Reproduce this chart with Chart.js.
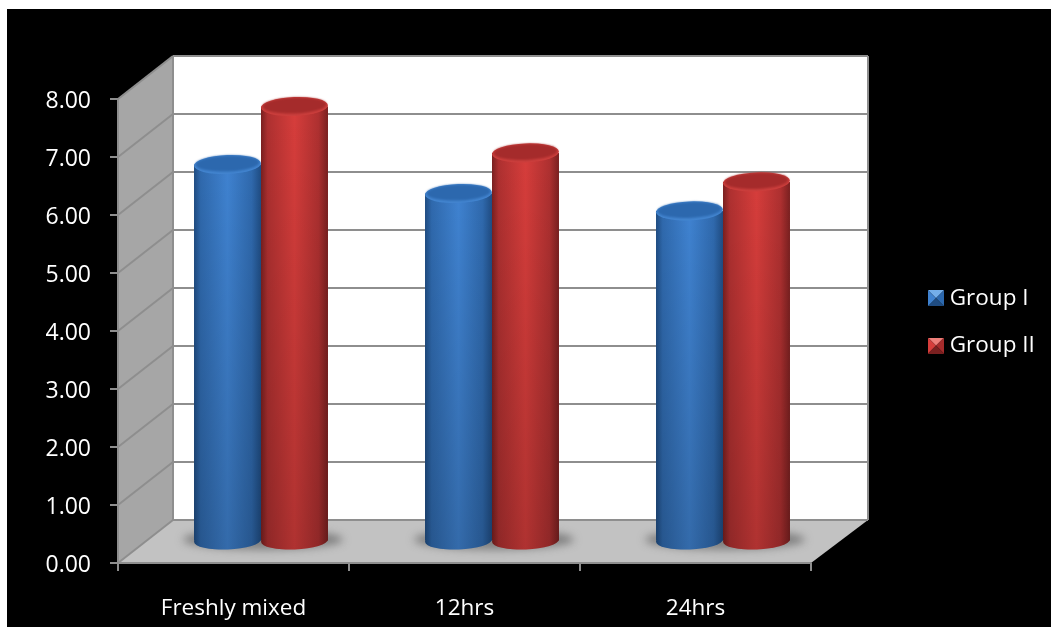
<!DOCTYPE html>
<html>
<head>
<meta charset="utf-8">
<title>Group I / Group II</title>
<script src="https://cdn.jsdelivr.net/npm/chart.js@4/dist/chart.umd.min.js"></script>
<style>
    html, body { margin: 0; padding: 0; background: #fff; overflow: hidden; }
    #backdrop { position: absolute; left: 7px; top: 9px; right: 0; bottom: 0; background: #000; }
    #wrap { position: absolute; left: 0; top: 0; width: 1051px; height: 627px; }
    canvas { display: block; }
</style>
</head>
<body>
<div id="backdrop"></div>
<div id="wrap"><canvas id="chart" width="1051" height="627"></canvas></div>
<script>
// Données
const categories = ['Freshly mixed', '12hrs', '24hrs'];
const groupOne = [6.5, 6.0, 5.7];
const groupTwo = [7.5, 6.7, 6.2];
const axisMax = 8;
const axisStep = 1;

// 3D box: how far the back wall sits behind the front axes
const DEPTH_X = 55;
const DEPTH_Y = -43;
const FONT = '"Open Sans", sans-serif';

const BLUE = { edge: '#1f4c82', side: '#2f69ad', mid: '#3f82d0', cap: '#2c68ae', rim: '#4385d0', top: '#74aeea' };
const RED  = { edge: '#7a2020', side: '#ae3030', mid: '#d63d3b', cap: '#a52b2b', rim: '#cc3f3d', top: '#ee7f7a' };

function poly(ctx, pts, fill) {
    ctx.beginPath();
    pts.forEach((p, i) => i ? ctx.lineTo(p[0], p[1]) : ctx.moveTo(p[0], p[1]));
    ctx.closePath();
    ctx.fillStyle = fill;
    ctx.fill();
}

function line(ctx, x1, y1, x2, y2) {
    ctx.beginPath();
    ctx.moveTo(x1, y1);
    ctx.lineTo(x2, y2);
    ctx.stroke();
}

// Small bevelled square for the legend
function legendMarker(c) {
    const s = 16;
    const cv = document.createElement('canvas');
    cv.width = s; cv.height = s;
    const g = cv.getContext('2d');
    const m = s / 2;
    poly(g, [[0, 0], [s, 0], [m, m]], c.top);
    poly(g, [[0, 0], [0, s], [m, m]], c.mid);
    poly(g, [[s, 0], [s, s], [m, m]], c.cap);
    poly(g, [[0, s], [s, s], [m, m]], c.edge);
    return cv;
}

// Walls, floor and grid behind the bars
const boxFrame = {
    id: 'boxFrame',
    beforeDatasetsDraw(chart) {
        const { ctx, chartArea: a, scales: { y } } = chart;
        const bx = a.left + DEPTH_X, by = a.top + DEPTH_Y, bb = a.bottom + DEPTH_Y, br = a.right + DEPTH_X + 2;
        ctx.save();
        poly(ctx, [[bx, by], [br, by], [br, bb], [bx, bb]], '#ffffff');
        poly(ctx, [[a.left, a.top], [bx, by], [bx, bb], [a.left, a.bottom]], '#a6a6a6');
        poly(ctx, [[a.left, a.bottom], [bx, bb], [br, bb], [a.right, a.bottom]], '#c2c2c2');

        ctx.strokeStyle = '#8e8e8e';
        ctx.lineWidth = 2;
        y.ticks.forEach(t => {
            const py = y.getPixelForValue(t.value);
            line(ctx, a.left, py, bx, py + DEPTH_Y);
            line(ctx, bx, py + DEPTH_Y, br, py + DEPTH_Y);
        });
        line(ctx, br, by, br, bb);
        line(ctx, bx, by, bx, bb);
        line(ctx, a.left, a.bottom, a.right, a.bottom);
        line(ctx, a.left, a.top, a.left, a.bottom);

        // soft shadow on the floor under each cylinder
        ctx.filter = 'blur(4px)';
        ctx.fillStyle = 'rgba(80,80,80,0.6)';
        chart.getDatasetMeta(0).data.forEach((el, i) => {
            const other = chart.getDatasetMeta(1).data[i];
            const cx = (el.x + other.x) / 2 + DEPTH_X / 2 + 2;
            const cy = el.base + DEPTH_Y / 2 - 1;
            ctx.beginPath();
            ctx.ellipse(cx, cy, el.width + 13, 10, 0, 0, Math.PI * 2);
            ctx.fill();
        });
        ctx.restore();
    }
};

// Turns the library's flat bars into cylinders standing mid-way in the box
const cylinders = {
    id: 'cylinders',
    beforeDatasetDraw(chart, args) {
        const { ctx } = chart;
        const colors = args.index === 0 ? BLUE : RED;
        ctx.save();
        ctx.translate(DEPTH_X / 2, DEPTH_Y / 2);
        args.meta.data.forEach(el => {
            const left = el.x - el.width / 2, right = el.x + el.width / 2;
            const grad = ctx.createLinearGradient(left, 0, right, 0);
            grad.addColorStop(0, colors.edge);
            grad.addColorStop(0.1, colors.side);
            grad.addColorStop(0.5, colors.mid);
            grad.addColorStop(0.86, colors.side);
            grad.addColorStop(1, colors.edge);
            el.options = Object.assign({}, el.options, { backgroundColor: grad, borderWidth: 0 });
            ctx.beginPath();
            ctx.ellipse(el.x, el.base, el.width / 2, 9, -0.04, 0, Math.PI * 2);
            ctx.fillStyle = grad;
            ctx.fill();
        });
    },
    afterDatasetDraw(chart, args) {
        const { ctx } = chart;
        const colors = args.index === 0 ? BLUE : RED;
        args.meta.data.forEach(el => {
            const left = el.x - el.width / 2;
            // darker towards the floor
            const fade = ctx.createLinearGradient(0, el.y, 0, el.base + 9);
            fade.addColorStop(0, 'rgba(0,0,0,0)');
            fade.addColorStop(1, 'rgba(0,0,0,0.18)');
            ctx.beginPath();
            ctx.rect(left, el.y, el.width, el.base - el.y);
            ctx.ellipse(el.x, el.base, el.width / 2, 9, -0.04, 0, Math.PI);
            ctx.fillStyle = fade;
            ctx.fill();
            // rim and cap
            ctx.beginPath();
            ctx.ellipse(el.x, el.y, el.width / 2, 9.5, -0.04, 0, Math.PI * 2);
            ctx.fillStyle = colors.rim;
            ctx.fill();
            ctx.save();
            ctx.filter = 'blur(1.2px)';
            ctx.beginPath();
            ctx.ellipse(el.x, el.y - 1, el.width / 2 - 1.5, 8, -0.04, 0, Math.PI * 2);
            ctx.fillStyle = colors.cap;
            ctx.fill();
            ctx.restore();
        });
        ctx.restore();
    }
};

// Puts the legend in the empty space to the right of the box
const legendPlacement = {
    id: 'legendPlacement',
    afterLayout(chart) {
        const l = chart.legend;
        l.left = 908.5; l.right = 1051;
        l.width = l.right - l.left;
        l.top = 262; l.bottom = 627;
        l.height = l.bottom - l.top;
    }
};

new Chart(document.getElementById('chart'), {
    type: 'bar',
    data: {
        labels: categories,
        datasets: [
            { label: 'Group I', data: groupOne, backgroundColor: BLUE.mid, borderWidth: 0, inflateAmount: 0, clip: false },
            { label: 'Group II', data: groupTwo, backgroundColor: RED.mid, borderWidth: 0, inflateAmount: 0, clip: false }
        ]
    },
    plugins: [boxFrame, cylinders, legendPlacement],
    options: {
        responsive: false,
        animation: false,
        events: [],
        layout: { padding: { left: 0, top: 99, right: 240, bottom: 0 } },
        datasets: { bar: { barPercentage: 1, categoryPercentage: 0.58 } },
        scales: {
            x: {
                afterFit(s) { s.height = 64; },
                grid: { drawOnChartArea: false, drawTicks: true, tickLength: 8, color: '#8e8e8e', lineWidth: 2 },
                border: { display: false },
                ticks: { color: '#fff', padding: 24, font: { family: FONT, size: 22.5 }, maxRotation: 0 }
            },
            y: {
                min: 0,
                max: axisMax,
                afterFit(s) { s.width = 118; },
                grid: { drawOnChartArea: false, drawTicks: true, tickLength: 8, color: '#8e8e8e', lineWidth: 2 },
                border: { display: false },
                ticks: {
                    stepSize: axisStep,
                    color: '#fff',
                    padding: 19,
                    labelOffset: 2,
                    font: { family: FONT, size: 23 },
                    callback: v => v.toFixed(2)
                }
            }
        },
        plugins: {
            title: { display: false },
            tooltip: { enabled: false },
            legend: {
                position: 'chartArea',
                align: 'start',
                labels: {
                    color: '#fff',
                    usePointStyle: true,
                    pointStyleWidth: 5,
                    padding: 25,
                    font: { family: FONT, size: 22.5 },
                    generateLabels(chart) {
                        const base = Chart.defaults.plugins.legend.labels.generateLabels(chart);
                        base.forEach((item, i) => { item.pointStyle = legendMarker(i === 0 ? BLUE : RED); });
                        return base;
                    }
                }
            }
        }
    }
});
</script>
</body>
</html>
